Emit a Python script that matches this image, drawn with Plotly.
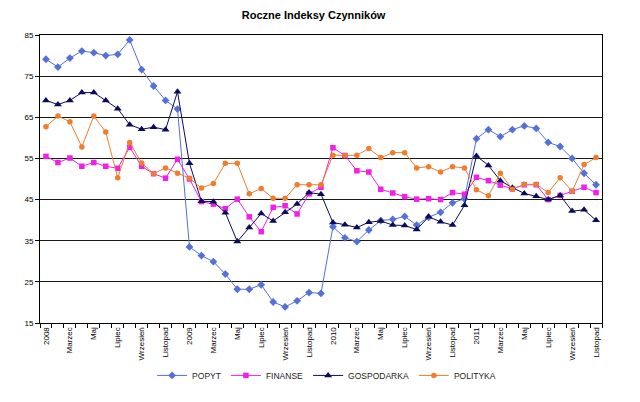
import plotly.graph_objects as go

months = ["Styczeń", "Luty", "Marzec", "Kwiecień", "Maj", "Czerwiec", "Lipiec",
          "Sierpień", "Wrzesień", "Październik", "Listopad", "Grudzień"]
years = [2008, 2009, 2010, 2011]
categories = []
for y in years:
    for i, m in enumerate(months):
        categories.append(str(y) if i == 0 else m)
categories = categories[:47]  # Jan 2008 .. Nov 2011

popyt = [79.1, 77.2, 79.4, 81.1, 80.7, 80.0, 80.3, 83.8, 76.6, 72.6, 69.1, 67.0,
         33.5, 31.4, 29.9, 26.9, 23.2, 23.2, 24.3, 20.1, 18.9, 20.4, 22.4, 22.2,
         38.4, 35.7, 34.8, 37.6, 39.9, 40.2, 40.9, 38.8, 40.7, 41.9, 44.2, 45.2,
         59.8, 62.0, 60.3, 62.0, 62.9, 62.3, 58.9, 57.9, 55.0, 51.4, 48.6]
finanse = [55.5, 54.0, 55.1, 53.1, 54.0, 53.1, 52.6, 57.7, 53.1, 51.3, 50.2, 54.8,
           50.0, 44.5, 43.9, 42.8, 45.1, 40.8, 37.2, 43.1, 43.5, 41.5, 46.4, 48.0,
           57.6, 55.7, 52.0, 51.7, 47.5, 46.6, 45.7, 45.1, 45.2, 45.0, 46.7, 46.3,
           50.4, 49.6, 48.5, 47.6, 48.6, 48.6, 45.0, 46.0, 47.0, 48.0, 46.7]
gospodarka = [69.1, 68.1, 69.1, 71.0, 71.0, 69.1, 67.1, 63.2, 62.1, 62.6, 62.0, 71.2,
              53.8, 44.6, 44.5, 41.8, 34.8, 38.2, 41.6, 39.8, 41.9, 43.9, 46.7, 46.3,
              39.4, 38.9, 38.2, 39.5, 39.8, 38.8, 38.7, 37.7, 40.8, 39.6, 38.8, 43.6,
              55.6, 53.3, 49.6, 47.9, 46.5, 45.8, 45.0, 46.0, 42.2, 42.5, 40.0]
polityka = [62.7, 65.3, 63.9, 57.8, 65.3, 61.4, 50.3, 58.9, 53.9, 51.3, 52.7, 51.4,
            50.2, 47.8, 48.9, 53.8, 53.8, 46.4, 47.7, 45.3, 45.3, 48.6, 48.6, 48.6,
            55.8, 55.7, 55.8, 57.4, 55.2, 56.4, 56.4, 52.7, 53.0, 51.7, 53.0, 52.7,
            47.4, 45.9, 51.4, 47.5, 48.7, 48.7, 46.7, 50.3, 47.0, 53.5, 55.2]

y_ticks = [15, 25, 35, 45, 55, 65, 75, 85]

x = list(range(len(categories)))
tickvals = x[::2]
ticktext = [categories[i] for i in tickvals]

series = [
    ("POPYT", popyt, "#5570D6", "diamond", 6),
    ("FINANSE", finanse, "#F020E8", "square", 5.5),
    ("GOSPODARKA", gospodarka, "#0B0B5C", "triangle-up", 7),
    ("POLITYKA", polityka, "#EE7E2E", "circle", 5.5),
]

fig = go.Figure()
for name, vals, col, sym, sz in series:
    fig.add_trace(go.Scatter(
        x=x, y=vals, name=name, mode="lines+markers",
        line=dict(color=col, width=1),
        marker=dict(symbol=sym, size=sz, color=col, line=dict(width=0)),
    ))

fig.update_layout(
    width=640, height=402,
    margin=dict(l=40, r=38, t=35, b=65),
    paper_bgcolor="white", plot_bgcolor="white",
    font=dict(family="Liberation Sans, Arial, sans-serif", color="black", size=8),
    title=dict(text="<b>Roczne Indeksy Czynników</b>", x=0.49, xanchor="center",
               y=0.962, yanchor="middle", font=dict(size=11, color="black")),
    showlegend=True,
    legend=dict(orientation="h", x=0.51, xanchor="center", y=-0.182, yanchor="middle",
                font=dict(size=8.5, color="#222"), itemwidth=30, tracegroupgap=0),
    xaxis=dict(
        range=[-0.5, len(categories) - 0.5],
        tickmode="array", tickvals=tickvals, ticktext=ticktext,
        tickangle=-90, ticks="", showgrid=False, zeroline=False,
        showline=True, linecolor="black", linewidth=1, mirror=True,
        tickfont=dict(size=8),
        minor=dict(tickmode="array", tickvals=[i - 0.5 for i in range(len(categories) + 1)],
                   ticks="outside", ticklen=4, tickcolor="black", showgrid=False),
    ),
    yaxis=dict(
        range=[15, 85], tickmode="array", tickvals=y_ticks,
        ticks="outside", ticklen=4, tickcolor="black",
        showgrid=True, gridcolor="#1a1a1a", gridwidth=1.2,
        zeroline=False, showline=True, linecolor="black", linewidth=1, mirror=True,
        tickfont=dict(size=8),
    ),
)

fig.write_html("out.html")
